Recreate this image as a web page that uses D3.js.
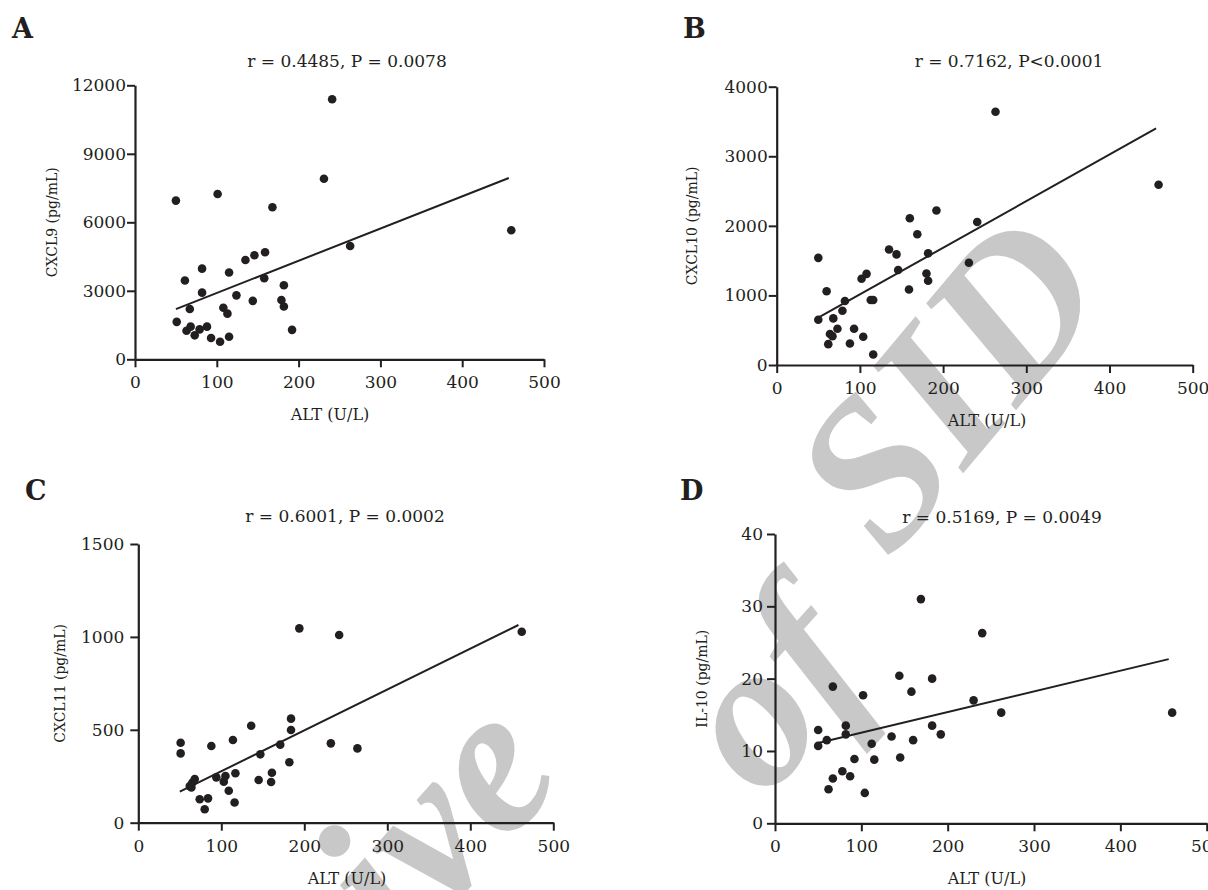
<!DOCTYPE html>
<html>
<head>
<meta charset="utf-8">
<script src="https://cdn.jsdelivr.net/npm/d3@7"></script>
<style>
  body { margin: 0; background: #fff; }
  svg { display: block; }
</style>
</head>
<body>
<div id="chart"></div>
<script>
// ---- data ----
const xTicks = [0, 100, 200, 300, 400, 500];

// A : CXCL9
const altA = [50, 101, 168, 61, 82, 115, 82, 135, 146, 159, 158, 182, 179, 182, 192, 144, 124, 108, 113, 115, 51, 67, 63, 68, 73, 79, 88, 93, 104, 241, 231, 263, 460];
const cxcl9 = [6950, 7240, 6660, 3450, 3970, 3800, 2920, 4350, 4560, 4690, 3550, 3240, 2600, 2310, 1290, 2560, 2800, 2260, 2000, 990, 1640, 2200, 1250, 1430, 1050, 1310, 1430, 930, 770, 11390, 7910, 4960, 5650];
const fitA = [[50, 2200], [457, 7940]];
const ticksA = [0, 3000, 6000, 9000, 12000];

// B : CXCL10
const altB = [50, 60, 50, 68, 79, 82, 62, 64, 67, 73, 88, 93, 104, 116, 102, 108, 113, 116, 135, 144, 146, 159, 160, 169, 182, 180, 182, 192, 263, 459, 241, 231];
const cxcl10 = [1540, 1060, 650, 670, 780, 920, 300, 445, 415, 520, 310, 520, 405, 150, 1240, 1310, 935, 935, 1660, 1590, 1365, 1085, 2110, 1880, 1605, 1315, 1210, 2220, 3640, 2590, 2055, 1470];
const fitB = [[50, 680], [456, 3400]];
const ticksB = [0, 1000, 2000, 3000, 4000];

// C : CXCL11
const altC = [51, 51, 62, 64, 65, 68, 74, 84, 80, 88, 94, 105, 103, 109, 114, 117, 116, 136, 147, 145, 161, 160, 171, 182, 184, 184, 194, 242, 462, 232, 264];
const cxcl11 = [430, 373, 197, 190, 215, 235, 126, 131, 72, 413, 244, 251, 221, 172, 445, 266, 109, 522, 368, 230, 269, 219, 420, 325, 560, 499, 1046, 1010, 1028, 427, 400];
const fitC = [[50, 167], [458, 1064]];
const ticksC = [0, 500, 1000, 1500];

// D : IL-10
const altD = [50, 50, 60, 67, 62, 67, 78, 82, 82, 87, 92, 102, 104, 112, 115, 135, 145, 144, 158, 160, 169, 182, 182, 192, 240, 230, 262, 460];
const il10 = [12.9, 10.7, 11.5, 18.9, 4.7, 6.2, 7.2, 13.5, 12.3, 6.5, 8.9, 17.7, 4.2, 11.0, 8.8, 12.0, 9.1, 20.4, 18.2, 11.5, 31.0, 20.0, 13.5, 12.3, 26.3, 17.0, 15.3, 15.3];
const fitD = [[50, 11.1], [456, 22.7]];
const ticksD = [0, 10, 20, 30, 40];

// ---- page ----
const width = 1208;
const height = 890;
const font = "DejaVu Serif";
const ink = "#231f20";

const svg = d3.select("#chart")
    .append("svg")
    .attr("width", width)
    .attr("height", height);

// filigrane gris en fond ("Archive of SID")
const wm = svg.append("g")
    .attr("fill", "#c8c8c8")
    .attr("font-family", "Liberation Serif")
    .attr("font-style", "italic")
    .attr("font-weight", "bold")
    .attr("font-size", 210);
wm.append("text")
    .attr("transform", "translate(567,777) rotate(-48)")
    .attr("text-anchor", "end")
    .text("Archive");
wm.append("text")
    .attr("transform", "translate(822,737) rotate(-48)")
    .attr("text-anchor", "middle")
    .text("of");
wm.append("text")
    .attr("transform", "translate(1002,427) rotate(-50)")
    .attr("text-anchor", "middle")
    .text("SID");

const panels = [
    { letter: "A", title: "r = 0.4485, P = 0.0078", yLabel: "CXCL9 (pg/mL)",
      xs: altA, ys: cxcl9, fit: fitA, yTicks: ticksA,
      box: [135, 544, 359.3, 85.3], letterPos: [12, 38], titlePos: [347, 67],
      yLabelX: 52, altPos: [330, 420], yPad: 1 },
    { letter: "B", title: "r = 0.7162, P<0.0001", yLabel: "CXCL10 (pg/mL)",
      xs: altB, ys: cxcl10, fit: fitB, yTicks: ticksB,
      box: [776.7, 1192.7, 365, 86.7], letterPos: [683, 38], titlePos: [1009, 67],
      yLabelX: 692, altPos: [987, 426], yPad: 1 },
    { letter: "C", title: "r = 0.6001, P = 0.0002", yLabel: "CXCL11 (pg/mL)",
      xs: altC, ys: cxcl11, fit: fitC, yTicks: ticksC,
      box: [138.3, 553.3, 822.7, 544], letterPos: [25, 500], titlePos: [345, 522],
      yLabelX: 60, altPos: [347, 884], yPad: 6 },
    { letter: "D", title: "r = 0.5169, P = 0.0049", yLabel: "IL-10 (pg/mL)",
      xs: altD, ys: il10, fit: fitD, yTicks: ticksD,
      box: [775, 1206.7, 823.3, 534], letterPos: [680, 500], titlePos: [1002, 523],
      yLabelX: 702, altPos: [987, 884], yPad: 4 }
];

panels.forEach(drawPanel);

function drawPanel(p) {
    const [x0, x1, y0, y1] = p.box;
    const yMax = p.yTicks[p.yTicks.length - 1];

    const x = d3.scaleLinear().domain([0, 500]).range([x0, x1]);
    const y = d3.scaleLinear().domain([0, yMax]).range([y0, y1]);

    const g = svg.append("g");

    // axes
    const xAxis = g.append("g")
        .attr("transform", `translate(0,${y0})`)
        .call(d3.axisBottom(x).tickValues(xTicks).tickSize(8).tickPadding(9).tickSizeOuter(0));
    const yAxis = g.append("g")
        .attr("transform", `translate(${x0},0)`)
        .call(d3.axisLeft(y).tickValues(p.yTicks).tickSize(8).tickPadding(p.yPad).tickSizeOuter(0).tickFormat(d3.format("d")));

    [xAxis, yAxis].forEach(a => {
        a.select(".domain").attr("stroke", ink).attr("stroke-width", 2.2);
        a.selectAll(".tick line").attr("stroke", ink).attr("stroke-width", 2);
        a.selectAll(".tick text")
            .attr("fill", ink)
            .attr("font-family", font)
            .attr("font-size", 17);
    });

    // droite de regression
    g.append("line")
        .attr("x1", x(p.fit[0][0])).attr("y1", y(p.fit[0][1]))
        .attr("x2", x(p.fit[1][0])).attr("y2", y(p.fit[1][1]))
        .attr("stroke", ink)
        .attr("stroke-width", 2);

    // points
    g.append("g")
        .selectAll("circle")
        .data(p.xs.map((v, i) => [v, p.ys[i]]))
        .enter().append("circle")
        .attr("cx", d => x(d[0]))
        .attr("cy", d => y(d[1]))
        .attr("r", 4.3)
        .attr("fill", ink);

    // textes
    g.append("text")
        .attr("x", p.letterPos[0]).attr("y", p.letterPos[1])
        .attr("font-family", font).attr("font-weight", "bold")
        .attr("font-size", 27).attr("fill", ink)
        .text(p.letter);

    g.append("text")
        .attr("x", p.titlePos[0]).attr("y", p.titlePos[1])
        .attr("text-anchor", "middle")
        .attr("font-family", font).attr("font-size", 17).attr("fill", ink)
        .text(p.title);

    g.append("text")
        .attr("x", p.altPos[0]).attr("y", p.altPos[1])
        .attr("text-anchor", "middle")
        .attr("font-family", font).attr("font-size", 16).attr("fill", ink)
        .text("ALT (U/L)");

    const yc = (y0 + y1) / 2;
    g.append("text")
        .attr("transform", `translate(${p.yLabelX},${yc}) rotate(-90)`)
        .attr("text-anchor", "middle")
        .attr("dy", "0.35em")
        .attr("font-family", font).attr("font-size", 14).attr("fill", ink)
        .text(p.yLabel);
}
</script>
</body>
</html>
